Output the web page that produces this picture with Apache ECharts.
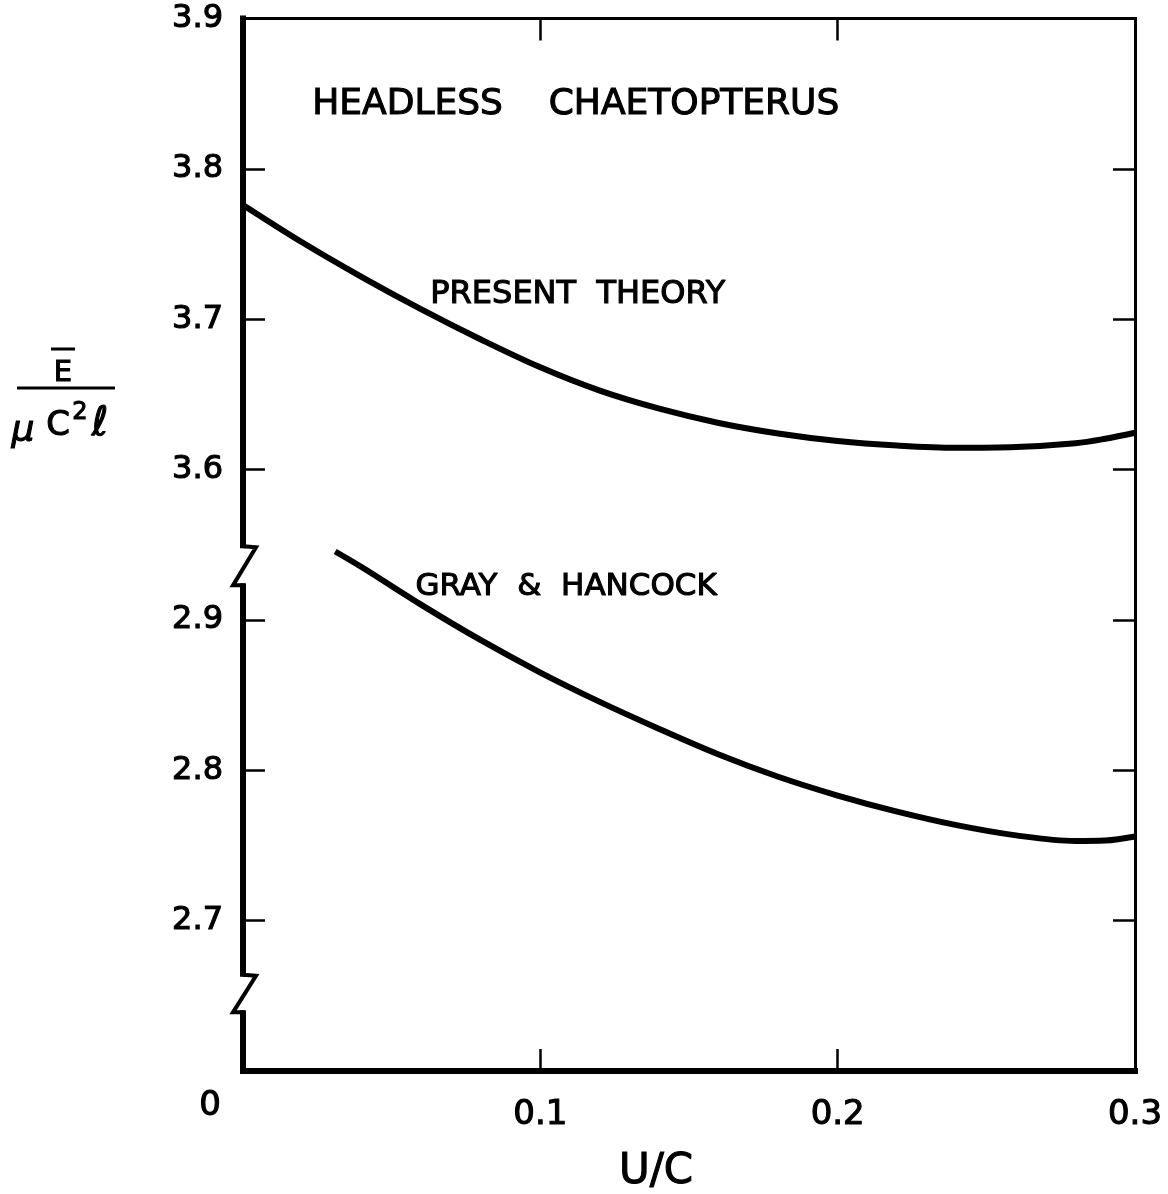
<!DOCTYPE html>
<html>
<head>
<meta charset="utf-8">
<script src="https://cdn.jsdelivr.net/npm/echarts@6/dist/echarts.min.js"></script>
<style>
  html, body { margin: 0; padding: 0; background: #fff; }
  #chart { width: 1168px; height: 1194px; }
</style>
</head>
<body>
<div id="chart"></div>
<script>
// Present theory: E / (mu C^2 l) against U/C
const presentU = [0, 0.02, 0.04, 0.06, 0.08, 0.10, 0.12, 0.14, 0.16, 0.18, 0.20, 0.22, 0.24, 0.26, 0.28, 0.29, 0.30];
const presentE = [3.776, 3.751, 3.728, 3.7065, 3.6865, 3.668, 3.6525, 3.6405, 3.631, 3.624, 3.619, 3.616, 3.6145, 3.615, 3.6175, 3.6205, 3.6245];

// Gray & Hancock
const grayU = [0.031, 0.04, 0.06, 0.08, 0.10, 0.12, 0.14, 0.16, 0.18, 0.20, 0.22, 0.24, 0.26, 0.28, 0.29, 0.30];
const grayE = [2.9455, 2.935, 2.910, 2.8865, 2.865, 2.8455, 2.8275, 2.8105, 2.7957, 2.7832, 2.7725, 2.7635, 2.7567, 2.753, 2.7533, 2.756];

// Tick labels: the y axis is broken, so each tick slot carries its own label
const xTickLabels = ['0', '0.1', '0.2', '0.3'];
const yTickLabels = ['', '2.7', '2.8', '2.9', '3.6', '3.7', '3.8', '3.9'];

const FONT = 'DejaVu Sans';
const INK = '#000';
// heavier strokes for axis text (label API: outline)
const HEAVY = { textBorderColor: INK, textBorderWidth: 1.1 };
// heavier strokes for free-standing text elements (zrender style: outline)
const HEAVY_G = { stroke: INK, lineWidth: 1.1 };

// Broken scale: slots 0-3 hold 2.6-2.9, slots 4-7 hold 3.6-3.9
function toAxis(v) {
  return v >= 3.3 ? 4 + (v - 3.6) * 10 : (v - 2.6) * 10;
}

const chart = echarts.init(document.getElementById('chart'), null, { renderer: 'canvas' });

const axisCommon = {
  type: 'value',
  splitLine: { show: false },
  axisTick: { show: true, inside: true, length: 22, lineStyle: { color: INK, width: 2.5 } }
};

chart.setOption({
  animation: false,
  backgroundColor: '#fff',
  grid: { left: 243, right: 33, top: 18.5, bottom: 123, containLabel: false, outerBoundsMode: 'none' },
  xAxis: [
    Object.assign({}, axisCommon, {
      position: 'bottom', min: 0, max: 0.3, interval: 0.1,
      axisLine: { show: true, onZero: false, lineStyle: { color: INK, width: 6, cap: 'square' } },
      axisLabel: {
        show: true, margin: 18, color: INK, fontFamily: FONT, fontSize: 34,
        formatter: function (v) {
          const t = xTickLabels[Math.round(v * 10)];
          return v === 0 ? '{o|' + t + '}' : '{n|' + t + '}';
        },
        rich: {
          o: Object.assign({ fontFamily: FONT, fontSize: 34, color: INK, padding: [0, 66, 0, 0] }, HEAVY),
          n: Object.assign({ fontFamily: FONT, fontSize: 34, color: INK, padding: [9, 0, 0, 0] }, HEAVY)
        }
      },
      name: 'U/C', nameLocation: 'middle', nameGap: 80,
      nameTextStyle: Object.assign({ color: INK, fontFamily: FONT, fontSize: 42, padding: [0, 66, 0, 0] }, HEAVY)
    }),
    Object.assign({}, axisCommon, {
      position: 'top', min: 0, max: 0.3, interval: 0.1,
      axisLine: { show: true, onZero: false, lineStyle: { color: INK, width: 3, cap: 'square' } },
      axisLabel: { show: false }
    })
  ],
  yAxis: [
    Object.assign({}, axisCommon, {
      position: 'left', min: 0, max: 7, interval: 1,
      axisLine: { show: true, onZero: false, lineStyle: { color: INK, width: 6, cap: 'square' } },
      axisLabel: Object.assign({
        show: true, margin: 20, color: INK, fontFamily: FONT, fontSize: 32,
        formatter: function (v) { return yTickLabels[Math.round(v)]; }
      }, HEAVY)
    }),
    Object.assign({}, axisCommon, {
      position: 'right', min: 0, max: 7, interval: 1,
      axisLine: { show: true, onZero: false, lineStyle: { color: INK, width: 3, cap: 'square' } },
      axisLabel: { show: false }
    })
  ],
  series: [
    {
      name: 'PRESENT THEORY', type: 'line', smooth: 0.35, symbol: 'none',
      lineStyle: { color: INK, width: 6 },
      data: presentU.map(function (u, i) { return [u, toAxis(presentE[i])]; })
    },
    {
      name: 'GRAY & HANCOCK', type: 'line', smooth: 0.35, symbol: 'none',
      lineStyle: { color: INK, width: 6 },
      data: grayU.map(function (u, i) { return [u, toAxis(grayE[i])]; })
    }
  ]
});

// Annotations and axis-break marks, placed in data space
function px(u, slot) {
  return chart.convertToPixel({ xAxisIndex: 0, yAxisIndex: 0 }, [u, slot]);
}

function breakMark(slotTop, slotBottom) {
  const a = px(0, slotTop), b = px(0, slotBottom);
  const x0 = a[0];
  return [
    { type: 'rect', z: 50, shape: { x: x0 - 5, y: a[1] + 2, width: 10, height: b[1] - a[1] - 4 }, style: { fill: '#fff' } },
    { type: 'polyline', z: 51, shape: { points: [[x0, a[1]], [x0 + 13, a[1] + 1], [x0 - 10, b[1]], [x0 + 2, b[1]]] },
      style: { stroke: INK, lineWidth: 4, fill: null, lineJoin: 'miter' } }
  ];
}

function note(text, u, slot, size) {
  const p = px(u, slot);
  return { type: 'text', z: 60, x: p[0], y: p[1] + 3,
    style: Object.assign({ text: text, fill: INK, fontFamily: FONT, fontSize: size, align: 'left', verticalAlign: 'middle' }, HEAVY_G) };
}

function glyph(text, x, y, size, italic) {
  return { type: 'text', z: 60, x: x, y: y,
    style: Object.assign({ text: text, fill: INK, fontFamily: FONT, fontSize: size, fontStyle: italic ? 'italic' : 'normal',
      align: 'center', verticalAlign: 'middle' }, HEAVY_G) };
}

const graphics = []
  .concat(breakMark(3.49, 3.23))
  .concat(breakMark(0.64, 0.39))
  .concat([
    note('HEADLESS    CHAETOPTERUS', 0.0233, toAxis(3.8445), 36),
    note('PRESENT  THEORY', 0.063, toAxis(3.7185), 32),
    note('GRAY  &  HANCOCK', 0.058, toAxis(2.924), 31),
    // y-axis title: E-bar over mu C^2 l
    glyph('E', 63, 373, 29, false),
    { type: 'line', z: 60, shape: { x1: 51, y1: 349, x2: 75, y2: 349 }, style: { stroke: INK, lineWidth: 3 } },
    { type: 'line', z: 60, shape: { x1: 17, y1: 388, x2: 115, y2: 388 }, style: { stroke: INK, lineWidth: 3 } },
    glyph('μ', 23, 432, 36, true),
    glyph('C', 58, 426, 34, false),
    glyph('2', 80, 413, 24, false),
    glyph('ℓ', 100, 425, 40, true)
  ]);

chart.setOption({ graphic: graphics });
</script>
</body>
</html>
